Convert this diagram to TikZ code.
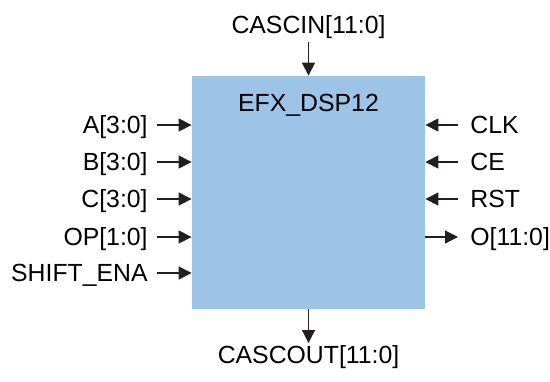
\documentclass[tikz,border=0pt]{standalone}
\usepackage{fontspec}
\setmainfont{Liberation Sans}
\usetikzlibrary{arrows.meta}
\definecolor{dspblue}{RGB}{157,195,230}
\definecolor{wire}{RGB}{35,31,32}
\begin{document}
\begin{tikzpicture}[x=0.5pt,y=-0.5pt,
  font=\fontsize{12.4pt}{14.5pt}\selectfont,
  sig/.style={draw=wire,line width=0.6pt,-{Triangle[length=6.5pt,width=6.5pt]}},
  lbl/.style={inner sep=0pt,text=black}]
\path[use as bounding box] (0,0) rectangle (550,381);
\node[fill=dspblue,minimum width=116.5pt,minimum height=116.5pt,inner sep=0pt] (dsp) at (308.5,192.5) {};
\node[lbl,anchor=base] (title) at (308.5,111.7) {EFX\_DSP12};
% top / bottom
\node[lbl,anchor=base] (cascin) at (308.5,33.3) {CASCIN[11:0]};
\coordinate (ci) at (308.5,42);
\draw[sig] (ci) -- (ci |- dsp.north);
\node[lbl,anchor=base] (cascout) at (308.5,363.3) {CASCOUT[11:0]};
\coordinate (co) at (308.5,343);
\draw[sig] (co |- dsp.south) -- (co);
% left inputs
\foreach \n/\t/\y in {a/A[3:0]/125, b/B[3:0]/162, c/C[3:0]/199, op/OP[1:0]/237, sh/SHIFT\_ENA/273}{
  \node[lbl,anchor=base east] (l\n) at (148,\y+8.8) {\t};
  \coordinate (s\n) at (157,\y);
  \draw[sig] (s\n) -- (s\n -| dsp.west);
}
% right inputs
\foreach \n/\t/\y in {clk/CLK/125, ce/CE/162, rst/RST/199}{
  \node[lbl,anchor=base west] (l\n) at (470,\y+8.8) {\t};
  \coordinate (s\n) at (458,\y);
  \draw[sig] (s\n) -- (s\n -| dsp.east);
}
% output
\node[lbl,anchor=base west] (lo) at (470,237+8.8) {O[11:0]};
\coordinate (so) at (458,237);
\draw[sig] (so -| dsp.east) -- (so);
\end{tikzpicture}
\end{document}
